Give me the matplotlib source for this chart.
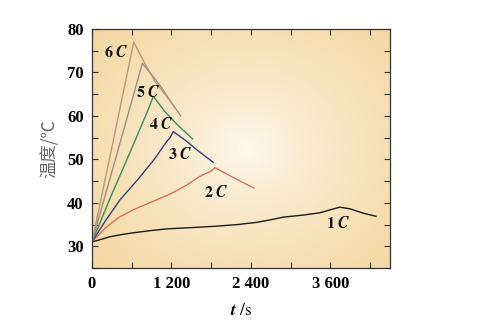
import numpy as np
import matplotlib.pyplot as plt
from matplotlib.ticker import MultipleLocator, FuncFormatter

plt.rcParams['mathtext.fontset'] = 'stix'

# curves: t in s, temperature in deg C
t_1c = [0, 120, 272, 450, 623, 880, 1127, 1500, 1857, 2200, 2485, 2700, 2887, 3200, 3441, 3600, 3743, 3900, 4100, 4287]
T_1c = [31.0, 31.5, 32.2, 32.7, 33.1, 33.6, 34.0, 34.3, 34.6, 35.0, 35.5, 36.1, 36.7, 37.2, 37.7, 38.4, 39.0, 38.6, 37.6, 36.9]

t_2c = [0, 200, 400, 623, 900, 1177, 1400, 1630, 1800, 1857, 2050, 2250, 2445]
T_2c = [31.0, 34.2, 36.6, 38.4, 40.2, 42.0, 43.8, 46.1, 47.3, 48.1, 46.5, 44.9, 43.4]

t_3c = [0, 200, 423, 700, 950, 1127, 1180, 1227, 1400, 1600, 1831]
T_3c = [31.0, 35.8, 40.7, 45.5, 50.2, 54.1, 55.0, 56.4, 54.5, 52.0, 49.3]

t_4c = [0, 300, 600, 850, 926, 1100, 1300, 1520]
T_4c = [31.0, 42.0, 52.5, 61.5, 64.5, 61.0, 57.8, 54.7]

t_5c = [0, 400, 760, 900, 1050, 1200, 1340]
T_5c = [31.0, 52.5, 72.1, 69.5, 66.5, 63.0, 60.0]

t_6c = [0, 320, 630, 800, 950, 1100, 1250]
T_6c = [31.0, 54.2, 77.0, 72.0, 68.0, 65.0, 62.0]

curves = [
    (t_1c, T_1c, '#1a1a1a', '1', 3718, 35.4),
    (t_2c, T_2c, '#d9705e', '2', 1882, 42.5),
    (t_3c, T_3c, '#3c3f7a', '3', 1328, 51.3),
    (t_4c, T_4c, '#3e8a5a', '4', 1052, 58.2),
    (t_5c, T_5c, '#a08c84', '5', 850, 65.6),
    (t_6c, T_6c, '#b8987a', '6', 362, 74.8),
]

fig = plt.figure(figsize=(4.84, 3.33), dpi=100)
ax = fig.add_axes([92 / 484, 1 - 268 / 333, 298 / 484, 239 / 333])

# radial cream background
gx, gy = np.meshgrid(np.linspace(0, 1, 200), np.linspace(0, 1, 200))
r = np.sqrt(((gx - 0.52) / 0.72) ** 2 + ((gy - 0.5) / 0.75) ** 2)
r = np.clip(r, 0, 1)
c_in = np.array([254, 249, 240]) / 255
c_out = np.array([243, 215, 160]) / 255
img = c_in + (c_out - c_in) * r[..., None] ** 0.75
ax.imshow(img, extent=[0, 1, 0, 1], transform=ax.transAxes, aspect='auto', zorder=0, origin='lower')

for t, T, col, lab, lx, ly in curves:
    ax.plot(t, T, color=col, lw=1.0, zorder=2)
    ax.text(lx, ly, r'$\mathbf{%s}\ \mathbfit{C}$' % lab, fontsize=11.5, ha='center', va='center',
            color='#111111', zorder=3)

ax.set_xlim(0, 4500)
ax.set_ylim(25, 80)
ax.xaxis.set_major_locator(MultipleLocator(1200))
ax.xaxis.set_minor_locator(MultipleLocator(600))
ax.yaxis.set_major_locator(MultipleLocator(10))
ax.yaxis.set_minor_locator(MultipleLocator(5))
ax.xaxis.set_major_formatter(FuncFormatter(lambda v, p: '{:,}'.format(int(v)).replace(',', ' ')))
ax.tick_params(which='both', direction='in', top=True, right=True, length=4, width=0.8, color='#333333')
ax.tick_params(labelsize=12, pad=6)
for lbl in ax.get_xticklabels() + ax.get_yticklabels():
    lbl.set_fontfamily('Liberation Serif')
    lbl.set_fontweight('bold')
for s in ax.spines.values():
    s.set_color('#333333')
    s.set_linewidth(0.9)

ax.set_xlabel(r'$\mathbfit{t}\ \mathrm{/s}$', fontsize=12.5, labelpad=6)
ax.set_ylabel('温度/℃', fontsize=12.5, color='#666666', labelpad=6,
              family=['Noto Sans CJK SC', 'DejaVu Sans'])

fig.savefig('out.png', dpi=100, facecolor='white')
